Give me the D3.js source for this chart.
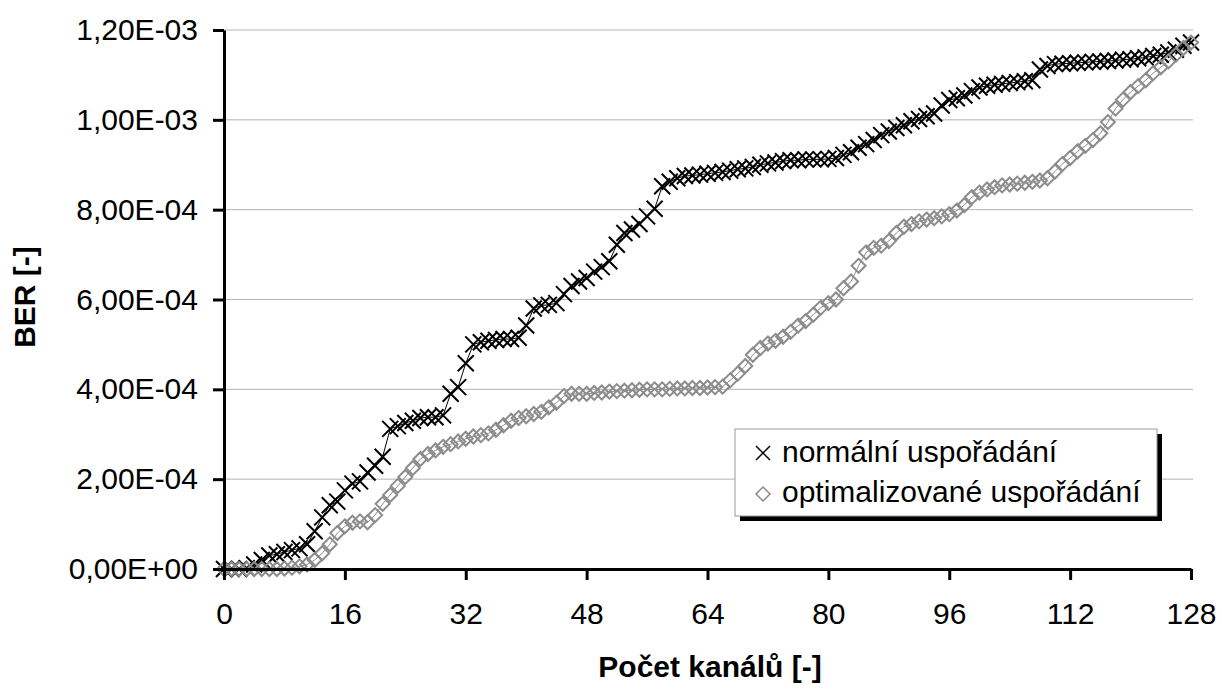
<!DOCTYPE html>
<html>
<head>
<meta charset="utf-8">
<script src="https://cdn.jsdelivr.net/npm/d3@7"></script>
<style>
  body { margin: 0; background: #fff; }
  text { font-family: "Liberation Sans", Arial, sans-serif; }
</style>
</head>
<body>
<div id="root"></div>
<script>
// BER values in units of 1e-4, one value per channel count (index = channel count 0..128)
var normal = [0, 0, 0, 0.02, 0.1, 0.2, 0.3, 0.33, 0.38, 0.42,
  0.46, 0.55, 0.84, 1.15, 1.42, 1.5, 1.75, 1.9, 1.95, 2.15,
  2.3, 2.5, 3.12, 3.18, 3.25, 3.3, 3.36, 3.38, 3.38, 3.42,
  3.9, 4.05, 4.58, 5.0, 5.05, 5.08, 5.1, 5.12, 5.12, 5.15,
  5.42, 5.8, 5.87, 5.88, 5.92, 6.12, 6.3, 6.4, 6.48, 6.62,
  6.72, 6.85, 7.22, 7.48, 7.56, 7.68, 7.85, 8.02, 8.52, 8.62,
  8.7, 8.75, 8.76, 8.78, 8.8, 8.82, 8.84, 8.87, 8.9, 8.92,
  8.95, 9.0, 9.03, 9.05, 9.08, 9.1, 9.1, 9.12, 9.12, 9.12,
  9.13, 9.15, 9.22, 9.28, 9.38, 9.46, 9.55, 9.66, 9.74, 9.82,
  9.88, 9.97, 10.02, 10.08, 10.14, 10.32, 10.44, 10.48, 10.54, 10.64,
  10.72, 10.76, 10.78, 10.8, 10.82, 10.84, 10.86, 10.88, 11.12, 11.2,
  11.24, 11.25, 11.26, 11.27, 11.28, 11.29, 11.3, 11.31, 11.32, 11.34,
  11.35, 11.37, 11.39, 11.42, 11.45, 11.5, 11.56, 11.65, 11.72];

var optimized = [0, 0, 0, 0, 0, 0, 0, 0, 0.01, 0.03,
  0.06, 0.1, 0.2, 0.35, 0.55, 0.8, 0.95, 1.03, 1.06, 1.04,
  1.2, 1.45, 1.65, 1.85, 2.05, 2.25, 2.45, 2.56, 2.64, 2.72,
  2.78, 2.84, 2.9, 2.95, 2.98, 3.02, 3.1, 3.2, 3.3, 3.36,
  3.4, 3.45, 3.5, 3.6, 3.7, 3.85, 3.9, 3.9, 3.9, 3.92,
  3.93, 3.95, 3.96, 3.97, 3.98, 3.99, 4.0, 4.0, 4.0, 4.01,
  4.02, 4.02, 4.03, 4.03, 4.04, 4.05, 4.06, 4.2, 4.35, 4.52,
  4.77, 4.92, 5.02, 5.08, 5.17, 5.28, 5.42, 5.52, 5.66, 5.82,
  5.92, 6.0, 6.25, 6.4, 6.75, 7.05, 7.15, 7.2, 7.3, 7.48,
  7.62, 7.68, 7.74, 7.78, 7.81, 7.85, 7.9, 7.98, 8.1, 8.28,
  8.38, 8.45, 8.5, 8.54, 8.56, 8.58, 8.6, 8.62, 8.65, 8.7,
  8.85, 9.02, 9.15, 9.3, 9.42, 9.55, 9.7, 9.95, 10.25, 10.45,
  10.62, 10.75, 10.88, 11.04, 11.17, 11.3, 11.45, 11.6, 11.72];

var xTicks = [0, 16, 32, 48, 64, 80, 96, 112, 128];
var yTicks = [0, 2, 4, 6, 8, 10, 12];
var yTickLabels = ["0,00E+00", "2,00E-04", "4,00E-04", "6,00E-04", "8,00E-04", "1,00E-03", "1,20E-03"];
var seriesNames = ["normální uspořádání", "optimalizované uspořádání"];

var w = 1222;
var h = 690;
var grey = "#8c8c8c";

var xScale = d3.scaleLinear().domain([0, 128]).range([224, 1191]);
var yScale = d3.scaleLinear().domain([0, 12]).range([569, 30]);

var svg = d3.select("#root").append("svg").attr("width", w).attr("height", h);
svg.append("rect").attr("width", w).attr("height", h).attr("fill", "white");

// gridlines
svg.append("g").selectAll("line").data(yTicks.slice(1)).enter().append("line")
  .attr("x1", xScale(0)).attr("x2", xScale(128) + 2)
  .attr("y1", function(d) { return yScale(d); }).attr("y2", function(d) { return yScale(d); })
  .attr("stroke", "#b4b4b4").attr("stroke-width", 1);

// lines through points
var line = d3.line()
  .x(function(d, i) { return xScale(i); })
  .y(function(d) { return yScale(d); });

svg.append("path").datum(normal).attr("d", line)
  .attr("fill", "none").attr("stroke", "black").attr("stroke-width", 1);
svg.append("path").datum(optimized).attr("d", line)
  .attr("fill", "none").attr("stroke", grey).attr("stroke-width", 1);

// markers
var crossPath = "M-8,-8L8,8M-8,8L8,-8";
var diamondPath = "M0,-7L7,0L0,7L-7,0Z";

svg.append("g").selectAll("path").data(normal).enter().append("path")
  .attr("d", crossPath)
  .attr("transform", function(d, i) { return "translate(" + xScale(i) + "," + yScale(d) + ")"; })
  .attr("fill", "none").attr("stroke", "black").attr("stroke-width", 2);

svg.append("g").selectAll("path").data(optimized).enter().append("path")
  .attr("d", diamondPath)
  .attr("transform", function(d, i) { return "translate(" + xScale(i) + "," + yScale(d) + ")"; })
  .attr("fill", "none").attr("stroke", grey).attr("stroke-width", 2);

// axes
var yAxis = d3.axisLeft(yScale).tickValues(yTicks)
  .tickFormat(function(d, i) { return yTickLabels[i]; })
  .tickSize(11).tickSizeOuter(0).tickPadding(15);
var xAxis = d3.axisBottom(xScale).tickValues(xTicks)
  .tickSize(11).tickSizeOuter(0).tickPadding(23);

var gy = svg.append("g").attr("transform", "translate(" + xScale(0) + ",0)").call(yAxis);
var gx = svg.append("g").attr("transform", "translate(0," + yScale(0) + ")").call(xAxis);

[gx, gy].forEach(function(g) {
  g.select(".domain").attr("stroke", "black").attr("stroke-width", 3);
  g.selectAll(".tick line").attr("stroke", "black").attr("stroke-width", 3);
  g.selectAll(".tick text").attr("fill", "black")
    .style("font-size", "30px").style("font-family", "'Liberation Sans', Arial, sans-serif");
});

// axis titles
svg.append("text").attr("x", 710).attr("y", 677).attr("text-anchor", "middle")
  .style("font-size", "30px").style("font-weight", "bold").text("Počet kanálů [-]");
svg.append("text").attr("transform", "translate(35,297) rotate(-90)").attr("text-anchor", "middle")
  .style("font-size", "30px").style("font-weight", "bold").text("BER [-]");

// legend
var lg = svg.append("g");
lg.append("rect").attr("x", 740).attr("y", 434).attr("width", 422).attr("height", 87).attr("fill", "black");
lg.append("rect").attr("x", 735).attr("y", 429).attr("width", 422).attr("height", 87)
  .attr("fill", "white").attr("stroke", "#999").attr("stroke-width", 1);
lg.append("path").attr("d", "M-7,-7L7,7M-7,7L7,-7").attr("transform", "translate(763,453)")
  .attr("fill", "none").attr("stroke", "black").attr("stroke-width", 1.5);
lg.append("path").attr("d", diamondPath).attr("transform", "translate(763,494)")
  .attr("fill", "none").attr("stroke", grey).attr("stroke-width", 1.5);
lg.selectAll("text.item").data(seriesNames).enter().append("text").attr("class", "item")
  .attr("x", 782).attr("y", function(d, i) { return 462 + i * 40; })
  .style("font-size", "30px").text(function(d) { return d; });
</script>
</body>
</html>
